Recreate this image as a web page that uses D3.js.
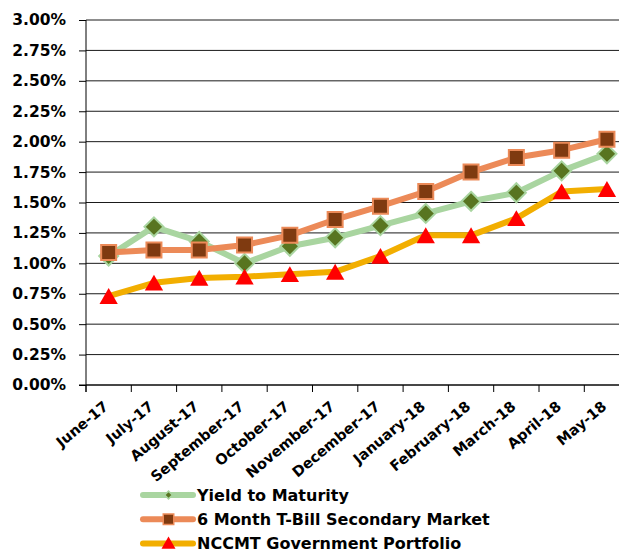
<!DOCTYPE html>
<html><head><meta charset="utf-8">
<script src="https://cdn.jsdelivr.net/npm/d3@7"></script>
<style>body{margin:0;background:#fff}svg{display:block}text{font-family:"DejaVu Sans",Verdana,sans-serif;font-weight:bold;fill:#000}</style>
</head><body><svg id="c" width="619" height="552"></svg>
<script>
const months = ["June-17","July-17","August-17","September-17","October-17","November-17","December-17","January-18","February-18","March-18","April-18","May-18"];
const yieldToMaturity = [1.06,1.30,1.18,1.00,1.14,1.21,1.31,1.41,1.51,1.58,1.76,1.90];
const tBill6Month = [1.09,1.11,1.11,1.15,1.23,1.36,1.47,1.59,1.75,1.87,1.93,2.02];
const nccmtGov = [0.73,0.84,0.88,0.89,0.91,0.93,1.06,1.23,1.23,1.37,1.59,1.61];
const yTicks = [0,0.25,0.5,0.75,1,1.25,1.5,1.75,2,2.25,2.5,2.75,3];
const seriesNames = ["Yield to Maturity","6 Month T-Bill Secondary Market","NCCMT Government Portfolio"];

const svg = d3.select("#c");
const L=86, R=629.6, T=20, B=385;
const x = d3.scaleBand().domain(months).range([L,R]);
const y = d3.scaleLinear().domain([0,3]).range([B,T]);

// gridlines
svg.append("g").selectAll("line").data(yTicks).join("line")
  .attr("x1",L).attr("x2",619).attr("y1",d=>y(d)).attr("y2",d=>y(d))
  .attr("stroke","#1a1a1a").attr("stroke-width",1);

// y axis
const ya = svg.append("g").attr("transform",`translate(${L},0)`)
  .call(d3.axisLeft(y).tickValues(yTicks).tickFormat(d=>d.toFixed(2)+"%").tickSize(7).tickPadding(13));
ya.select(".domain").remove();
ya.selectAll("line").attr("stroke","#000");
ya.selectAll("text").style("font-size","15.5px").style("font-family","'DejaVu Sans',Verdana,sans-serif").style("font-weight","bold").attr("fill","#000");
svg.append("line").attr("x1",L).attr("x2",L).attr("y1",T).attr("y2",B+7).attr("stroke","#000");

// x axis
svg.append("line").attr("x1",L-7).attr("x2",619).attr("y1",B).attr("y2",B).attr("stroke","#000");
const bounds = months.map(m=>x(m));
svg.append("g").selectAll("line").data(bounds).join("line")
  .attr("x1",d=>d).attr("x2",d=>d).attr("y1",B).attr("y2",B+7).attr("stroke","#000");
svg.append("g").selectAll("text").data(months).join("text")
  .attr("transform",d=>`translate(${x(d)+x.bandwidth()/2+0.5},${B+23}) rotate(-40)`)
  .attr("text-anchor","end").style("font-size","14.5px").text(d=>d);

const cx = d=>x(d)+x.bandwidth()/2;
const diamond = {draw(ctx,size){const s=Math.sqrt(size)/Math.SQRT2; ctx.moveTo(0,-s);ctx.lineTo(s,0);ctx.lineTo(0,s);ctx.lineTo(-s,0);ctx.closePath();}};
const series = [
  {name:seriesNames[0], vals:yieldToMaturity, line:"#a9d5a0", fill:"#587520", stroke:"#a9d5a0", sym:diamond, size:180, lsize:30, dy:0, ldy:0},
  {name:seriesNames[1], vals:tBill6Month, line:"#ec8a58", fill:"#7f3a10", stroke:"#ec8a58", sym:d3.symbolSquare, size:225, lsize:110, dy:0, ldy:0},
  {name:seriesNames[2], vals:nccmtGov, line:"#f2ae00", fill:"#ff0000", stroke:"none", sym:d3.symbolTriangle, size:145, lsize:85, dy:2.5, ldy:1}
];
const lineGen = d3.line().x(d=>cx(d.m)).y(d=>y(d.v));
series.forEach(s=>{
  const pts = months.map((m,i)=>({m,v:s.vals[i]}));
  svg.append("path").datum(pts).attr("d",lineGen).attr("fill","none")
    .attr("stroke",s.line).attr("stroke-width",6).attr("stroke-linejoin","round");
  svg.append("g").selectAll("path").data(pts).join("path")
    .attr("d",d3.symbol().type(s.sym).size(s.size))
    .attr("transform",d=>`translate(${cx(d.m)},${y(d.v)+s.dy})`)
    .attr("fill",s.fill).attr("stroke",s.stroke).attr("stroke-width",2);
});

// legend
const lg = svg.append("g");
series.forEach((s,i)=>{
  const yy = 495 + i*24.3;
  lg.append("line").attr("x1",143).attr("x2",193).attr("y1",yy).attr("y2",yy)
    .attr("stroke",s.line).attr("stroke-width",6).attr("stroke-linecap","round");
  lg.append("path").attr("d",d3.symbol().type(s.sym).size(s.lsize))
    .attr("transform",`translate(168.5,${yy+s.ldy})`).attr("fill",s.fill).attr("stroke",s.stroke).attr("stroke-width",1.5);
  lg.append("text").attr("x",197).attr("y",yy).attr("dy","0.36em").style("font-size","16px").text(s.name);
});
</script></body></html>
